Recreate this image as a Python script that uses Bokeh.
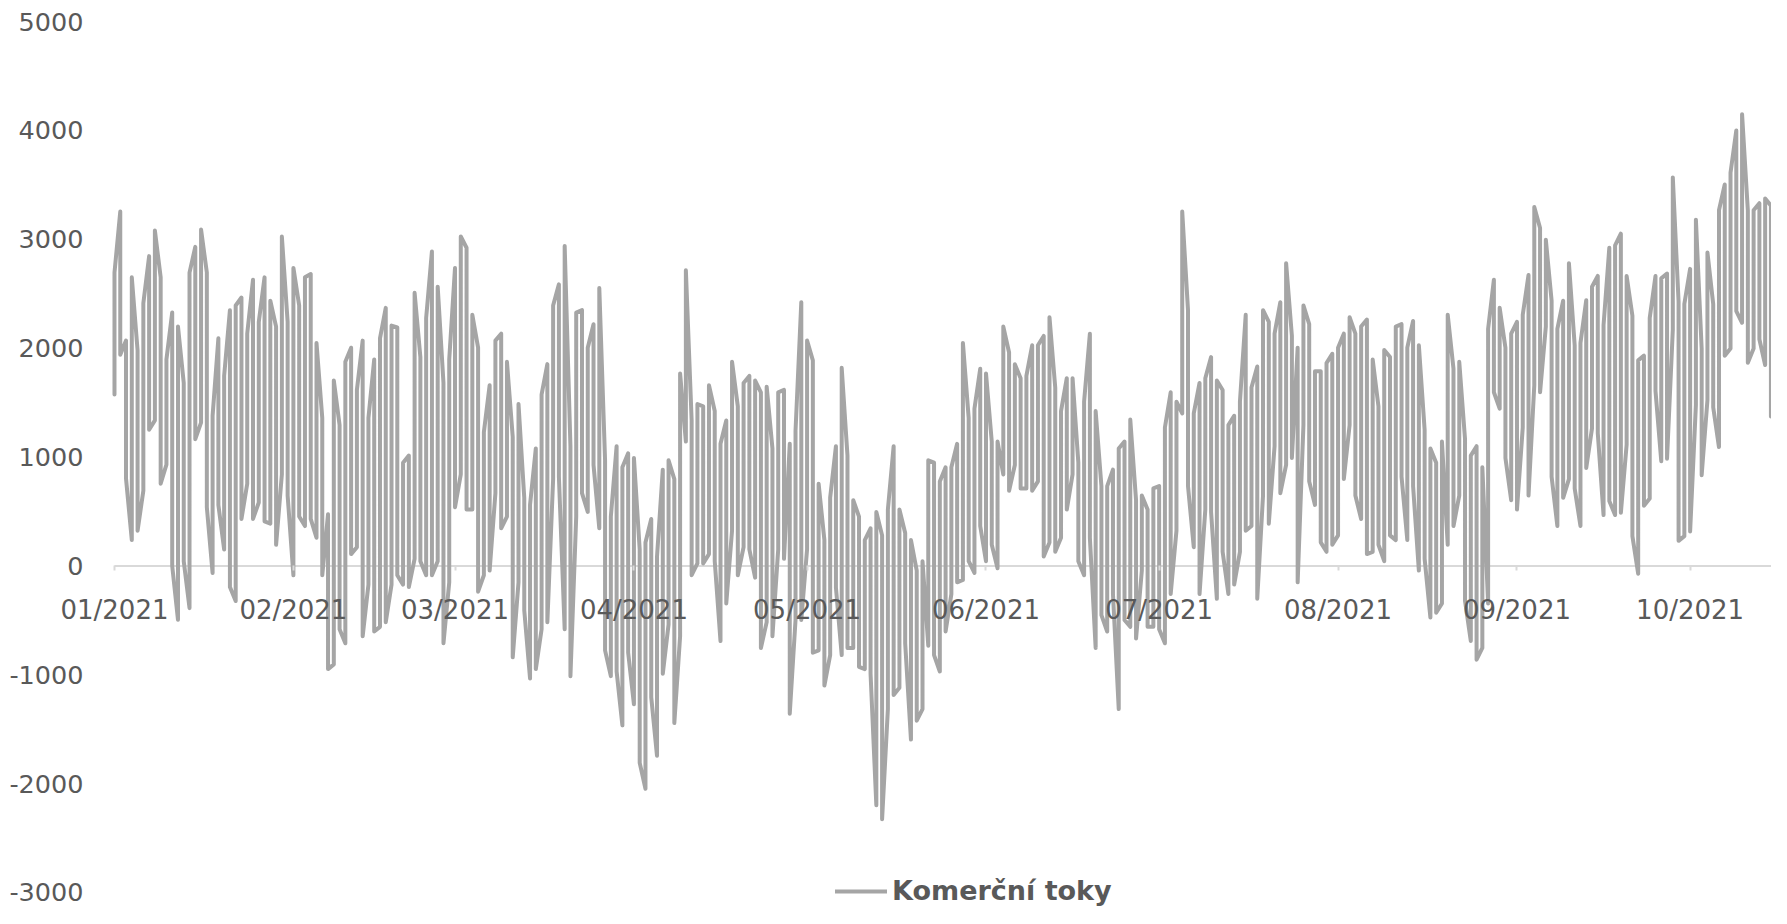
import pandas as pd
from bokeh.plotting import figure
from bokeh.models import (Range1d, FixedTicker, MonthsTicker, DatetimeTickFormatter,
                          CustomJSTickFormatter, Legend, LegendItem)
from bokeh.embed import file_html
from bokeh.resources import INLINE

# ---- data: daily high / low of the flow (one vertical stroke per day) ----
series_name = "Komerční toky"
start_date = "2021-01-01"

high_jan = [2694, 3254, 2070, 2650, 1980, 2413, 2845, 3080, 2650, 1896, 2327, 2198, 1680, 2694, 2930, 3090,
            2694, 1379, 2090, 1745, 2349, 2392, 2465, 2133, 2629, 2241, 2650, 2435, 2198, 3025, 2241]
low_jan = [1573, 1940, 800, 237, 323, 690, 1250, 1336, 755, 930, 0, -495, 43, -388, 1164, 1315,
           539, -65, 560, 150, -194, -323, 431, 754, 431, 582, 409, 388, 194, 840, 646]

high_feb = [2737, 2392, 2650, 2680, 2047, 1358, 474, 1702, 1293, 1874, 2004, 1616, 2069, 1358, 1896, 2090,
            2370, 2207, 2190, 948, 1013, 2508, 1918, 2276, 2888, 2564, 1680, 1896]
low_feb = [-86, 453, 366, 431, 258, -86, -948, -905, -582, -711, 108, 172, -647, -172, -603, -560,
           -517, -172, -86, -172, -194, 65, 43, -86, -86, 43, -711, -151]

high_mar = [2737, 3025, 2922, 2306, 2004, 1228, 1659, 2069, 2133, 1874, 1185, 1487, 625, 560, 1078, 1573,
            1853, 2392, 2586, 2939, 1099, 2327, 2349, 2004, 2220, 2552, 970, 453, 1099, 905, 1034]
low_mar = [539, 840, 517, 517, -237, -86, -43, 668, 345, 453, -840, -151, -409, -1034, -948, -582,
           -517, 797, 819, -582, -1013, 453, 668, 496, 927, 345, -776, -1013, -970, -1465, -797]

high_apr = [991, 151, 215, 431, 86, 884, 970, 797, 1767, 2715, 1336, 1487, 1465, 1659, 1422, 1121,
            1336, 1874, 1465, 1680, 1745, 1702, 1594, 1646, 1078, 1594, 1616, 1121, 1241, 2422]
low_apr = [-1271, -1810, -2047, -1207, -1745, -991, -539, -1444, -647, 1142, -86, 22, 22, 108, 43, -690,
           -345, 323, -86, 172, 151, -108, -754, -517, -646, 151, 65, -1358, -496, -496]

high_may = [2069, 1888, 754, 237, 625, 1099, 1819, 1013, 603, 453, 237, 345, 496, 280, 517, 1099,
            517, 302, 237, -43, 43, 970, 948, 776, 905, 905, 1121, 2047, 1358, 1444, 1810]
low_may = [151, -797, -776, -1099, -819, -200, -819, -754, -754, -927, -948, -991, -2198, -2327, -1315, -1185,
           -1120, -711, -1595, -1422, -1315, -733, -819, -970, -603, -259, -151, -129, 43, -65, 366]

high_jun = [1767, 1142, 1142, 2198, 1960, 1853, 1724, 1745, 2026, 2026, 2112, 2284, 1638, 1422, 1724, 1724,
            948, 1508, 2133, 1422, 733, 733, 884, 1078, 1142, 1344, 603, 646, 517, 711]
low_jun = [43, 194, -22, 840, 690, 927, 711, 711, 690, 776, 86, 215, 129, 258, 517, 840,
           43, -86, 258, -754, -453, -603, -259, -1315, -496, -560, -668, -43, -560, -560]

high_jul = [733, 1271, 1594, 1508, 3254, 2349, 1400, 1680, 1724, 1918, 1702, 1616, 1293, 1379, 1508, 2306,
            1638, 1832, 2349, 2241, 2133, 2422, 2780, 2112, 2004, 2392, 2220, 1788, 1788, 1862, 1948]
low_jul = [-582, -711, -259, 323, 1400, 733, 172, -259, 517, 496, -302, 129, -259, -172, 129, 323,
           366, -302, 646, 388, 1099, 668, 927, 991, -151, 1293, 776, 560, 216, 129, 194]

high_aug = [2004, 2133, 2284, 2133, 2198, 2263, 1896, 1465, 1983, 1918, 2198, 2220, 2004, 2250, 2026, 1250,
            1078, 948, 1142, 2306, 1810, 1874, 1164, 1013, 1099, 905, 2177, 2629, 2370, 2004, 2133]
low_aug = [280, 797, 1293, 646, 431, 108, 129, 194, 43, 280, 237, 819, 237, 733, -43, 65,
           -474, -431, -345, 194, 366, 646, -323, -690, -862, -754, -345, 1595, 1444, 991, 603]

high_sep = [2241, 2306, 2672, 3297, 3103, 2995, 2435, 2177, 2435, 2780, 2026, 2047, 2440, 2564, 2663, 2211,
            2922, 2943, 3051, 2663, 2297, 1888, 1931, 2276, 2663, 2641, 2685, 3568, 2426, 2405]
low_sep = [517, 1271, 646, 1659, 1594, 2198, 819, 366, 625, 797, 711, 366, 900, 1263, 1220, 467,
           596, 467, 488, 1113, 273, -72, 553, 618, 1608, 962, 984, 2168, 230, 273]

high_oct = [2728, 3180, 1996, 2879, 2405, 3266, 3503, 3611, 3998, 4149, 3266, 3266, 3331, 3374, 3309]
low_oct = [316, 1479, 833, 1522, 1457, 1091, 1931, 1996, 2340, 2233, 1866, 1996, 2082, 1845, 1371]

y_ticks = [-3000, -2000, -1000, 0, 1000, 2000, 3000, 4000, 5000]

# ---- build the path: two points per date, joined day to day ----
highs = high_jan + high_feb + high_mar + high_apr + high_may + high_jun + high_jul + high_aug + high_sep + high_oct
lows = low_jan + low_feb + low_mar + low_apr + low_may + low_jun + low_jul + low_aug + low_sep + low_oct
dates = pd.date_range(start_date, periods=len(highs), freq="D")

xs, ys = [], []
prev = None
for d, h, l in zip(dates, highs, lows):
    if prev is None:
        pair = (l, h)
    else:
        pair = (h, l) if abs(h - prev) < abs(l - prev) else (l, h)
    xs += [d, d]
    ys += list(pair)
    prev = pair[1]

GRAY = "#a5a5a5"
TEXT = "#595959"
AXIS = "#d9d9d9"

W, H = 1771, 908
t0 = pd.Timestamp(start_date)
t_end = t0 + pd.Timedelta(days=287.1)
# the frame covers the whole canvas; room is left for the value labels
x_start = t0 - pd.Timedelta(days=19.75)
y_lo, y_hi = -3147, 5193

p = figure(width=W, height=H, x_axis_type="datetime",
           output_backend="svg", toolbar_location=None,
           x_range=Range1d(x_start, t_end), y_range=Range1d(y_lo, y_hi),
           min_border=0, min_border_left=0, min_border_right=0,
           min_border_top=0, min_border_bottom=0)
p.outline_line_color = None
p.xgrid.visible = False
p.ygrid.visible = False

# zero axis line starting at the first date
p.segment(x0=[dates[0]], y0=[0], x1=[t_end], y1=[0], line_color=AXIS, line_width=2)

r = p.line(xs, ys, line_color=GRAY, line_width=4, line_join="round", line_cap="round")

# y axis: labels placed left of the first date
p.yaxis.fixed_location = t0.value / 1e6
p.yaxis.ticker = FixedTicker(ticks=y_ticks)
p.yaxis.formatter = CustomJSTickFormatter(code="return tick.toFixed(0);")
p.yaxis.axis_line_color = None
p.yaxis.major_tick_line_color = None
p.yaxis.major_tick_out = 0
p.yaxis.major_tick_in = 0
p.yaxis.minor_tick_line_color = None
p.yaxis.minor_tick_out = 0
p.yaxis.minor_tick_in = 0
p.yaxis.major_label_standoff = 31
p.yaxis.major_label_text_font = "DejaVu Sans"
p.yaxis.major_label_text_font_size = "25.5px"
p.yaxis.major_label_text_color = TEXT

# x axis drawn at y = 0
p.xaxis.fixed_location = 0
p.xaxis.ticker = MonthsTicker(months=list(range(12)))
p.xaxis.formatter = DatetimeTickFormatter(days="%m/%Y", months="%m/%Y", years="%m/%Y")
p.xaxis.axis_line_color = None
p.xaxis.major_tick_line_color = AXIS
p.xaxis.major_tick_line_width = 2
p.xaxis.major_tick_out = 5
p.xaxis.major_tick_in = 0
p.xaxis.minor_tick_line_color = None
p.xaxis.major_label_standoff = 24
p.xaxis.major_label_text_font = "DejaVu Sans"
p.xaxis.major_label_text_font_size = "26px"
p.xaxis.major_label_text_color = TEXT

legend = Legend(items=[LegendItem(label=series_name, renderers=[r])], location=(835, 2),
                padding=0, margin=0, spacing=0, border_line_color=None, background_fill_alpha=0,
                glyph_width=52, glyph_height=30, label_height=30, label_standoff=5,
                label_text_font="DejaVu Sans", label_text_font_style="bold",
                label_text_font_size="27px", label_text_color=TEXT)
p.add_layout(legend)

open("out.html", "w").write(file_html(p, INLINE))
